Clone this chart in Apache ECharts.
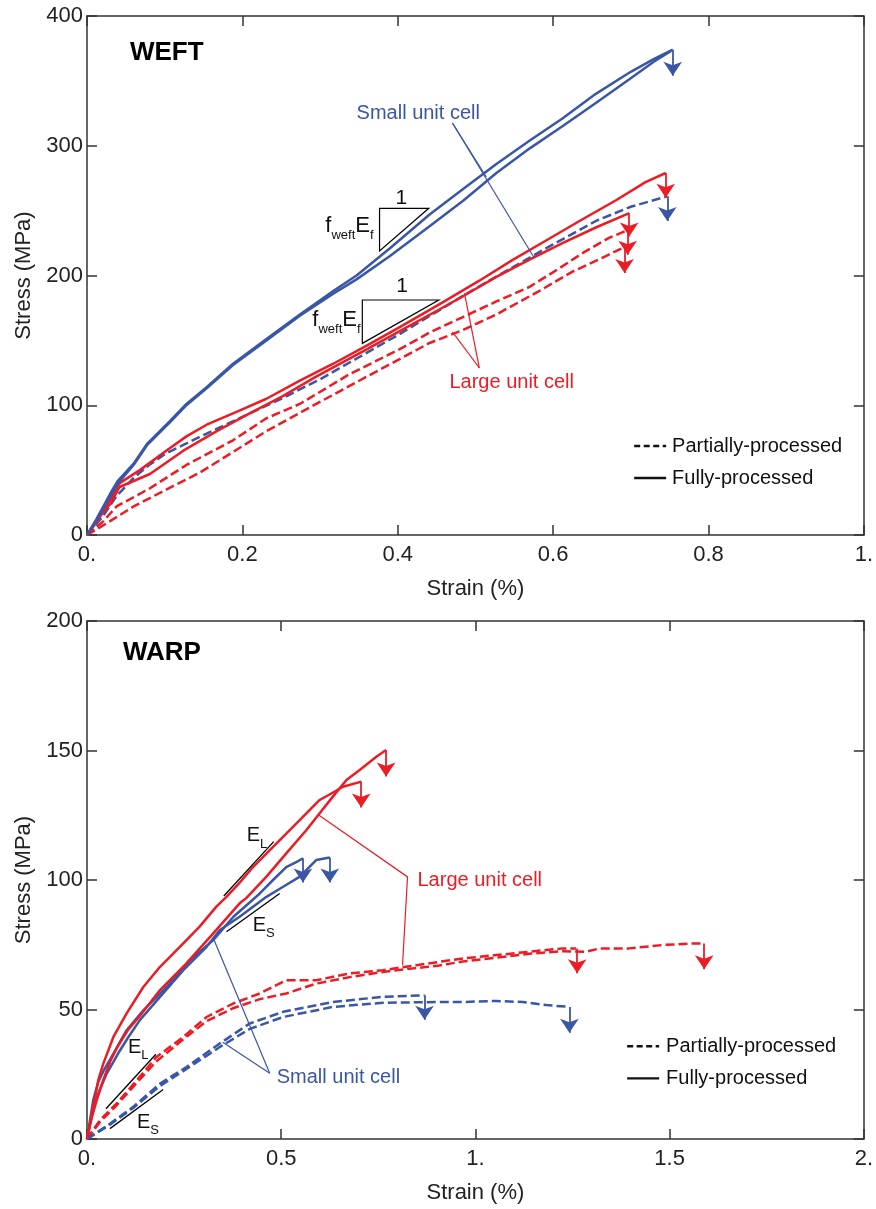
<!DOCTYPE html>
<html><head><meta charset="utf-8">
<script src="https://cdn.jsdelivr.net/npm/echarts@6/dist/echarts.min.js"></script>
<style>html,body{margin:0;padding:0;background:#fff}#c{width:876px;height:1209px}</style>
</head><body><div id="c"></div>
<script>
// ---------------- DATA ----------------
// WEFT panel: [strain %, stress MPa]
const weftStrainTicks = [0, 0.2, 0.4, 0.6, 0.8, 1.0];
const weftStrainLabels = ['0.', '0.2', '0.4', '0.6', '0.8', '1.'];
const weftStressTicks = [0, 100, 200, 300, 400];
const weftSmallFullyA = [[0,0],[0.012,12],[0.03,32],[0.04,42],[0.06,55],[0.077,70],[0.107,88],[0.128,101],[0.154,114],[0.188,132],[0.231,151],[0.274,170],[0.317,188],[0.347,200],[0.39,221],[0.441,247],[0.485,267],[0.527,286],[0.57,304],[0.612,321],[0.655,340],[0.7,357],[0.73,367],[0.754,374]];
const weftSmallFullyB = [[0,0],[0.012,11],[0.03,30],[0.04,40],[0.06,54],[0.077,69],[0.107,87],[0.128,100],[0.154,113],[0.188,131],[0.231,150],[0.274,169],[0.317,186],[0.347,197],[0.39,215],[0.441,238],[0.485,258],[0.527,279],[0.57,298],[0.612,315],[0.655,333],[0.7,352],[0.73,365],[0.752,373]];
const weftSmallPartial = [[0,0],[0.02,14],[0.038,30],[0.06,44],[0.08,54],[0.102,63],[0.15,77],[0.2,91],[0.25,105],[0.3,120],[0.35,137],[0.4,154],[0.45,172],[0.5,190],[0.55,207],[0.6,224],[0.655,242],[0.7,253],[0.747,261]];
const weftLargeFullyA = [[0,0],[0.01,9],[0.021,19],[0.03,27],[0.042,40],[0.068,50],[0.102,65],[0.128,76],[0.154,85],[0.197,96],[0.231,105],[0.274,119],[0.317,132],[0.36,146],[0.402,160],[0.454,178],[0.505,196],[0.548,212],[0.591,227],[0.634,242],[0.681,258],[0.719,272],[0.745,279]];
const weftLargeFullyB = [[0,0],[0.01,8],[0.02,17],[0.03,24],[0.042,37],[0.081,47],[0.124,65],[0.167,80],[0.21,94],[0.252,107],[0.295,122],[0.36,143],[0.402,157],[0.454,174],[0.484,184],[0.527,199],[0.569,212],[0.612,225],[0.655,237],[0.698,248]];
const weftLargePartialA = [[0,0],[0.02,10],[0.038,22],[0.081,36],[0.128,54],[0.188,73],[0.231,90],[0.274,101],[0.338,124],[0.402,143],[0.441,156],[0.484,168],[0.527,180],[0.569,191],[0.604,204],[0.64,218],[0.672,229],[0.696,235]];
const weftLargePartialB = [[0,0],[0.017,6],[0.06,22],[0.102,35],[0.145,48],[0.188,64],[0.231,80],[0.295,101],[0.36,122],[0.441,148],[0.484,158],[0.527,170],[0.582,188],[0.625,203],[0.668,215],[0.692,222]];
// failure arrows: [strain, stress at failure, stress at arrow tip]
const weftBreakSmall = [[0.754,374,354],[0.747,261,242]];
const weftBreakLarge = [[0.745,279,260],[0.698,248,230],[0.696,235,216],[0.692,222,202]];

// WARP panel
const warpStrainTicks = [0, 0.5, 1.0, 1.5, 2.0];
const warpStrainLabels = ['0.', '0.5', '1.', '1.5', '2.'];
const warpStressTicks = [0, 50, 100, 150, 200];
const warpLargeFullyA = [[0,0],[0.016,12.4],[0.029,22.7],[0.042,29.1],[0.068,39.4],[0.102,48.5],[0.145,58.7],[0.188,66.5],[0.239,74.2],[0.29,82],[0.333,89.7],[0.359,93.5],[0.393,99],[0.428,105.1],[0.479,112.8],[0.522,119.3],[0.573,127],[0.599,130.9],[0.63,133.5],[0.659,136],[0.706,138]];
const warpLargeFullyB = [[0,0],[0.012,8],[0.025,15],[0.04,22],[0.06,30],[0.08,36],[0.105,42],[0.136,47.5],[0.188,57.5],[0.256,67.8],[0.325,79.4],[0.393,91],[0.41,93],[0.462,101.3],[0.513,110.3],[0.565,119.3],[0.599,125.8],[0.633,132.2],[0.668,138.6],[0.702,142.5],[0.745,147.6],[0.77,150.2]];
const warpSmallFullyA = [[0,0],[0.016,15],[0.029,22],[0.045,27],[0.068,33],[0.102,42],[0.145,49.7],[0.205,58.7],[0.265,69],[0.325,76.8],[0.377,85.8],[0.445,94.8],[0.479,100],[0.513,105],[0.54,107],[0.556,108.4]];
const warpSmallFullyB = [[0,0],[0.016,12],[0.03,18],[0.05,25],[0.08,33],[0.105,39],[0.136,45.9],[0.188,54.9],[0.248,65.2],[0.308,74.2],[0.342,80.7],[0.393,85.8],[0.462,93.5],[0.505,97.4],[0.548,101.3],[0.59,107.7],[0.625,108.7]];
const warpLargePartialA = [[0,0],[0.033,7.2],[0.076,13.7],[0.136,24],[0.179,31.7],[0.248,39.4],[0.308,47.1],[0.376,52.3],[0.445,56.2],[0.513,61.3],[0.59,61.3],[0.676,63.9],[0.762,65.2],[0.848,67.1],[0.907,68.4],[0.967,69.7],[1.053,71],[1.139,72.3],[1.224,73.6],[1.259,73.6]];
const warpLargePartialB = [[0,0],[0.033,6.5],[0.076,13],[0.136,23],[0.179,30],[0.248,38.5],[0.308,45.5],[0.376,50.5],[0.445,54],[0.513,56.2],[0.59,60],[0.676,62.5],[0.762,64.5],[0.848,66],[0.907,67],[0.967,68.5],[1.053,70],[1.139,71.5],[1.224,72.5],[1.285,72.3],[1.32,73.6],[1.396,73.6],[1.482,74.9],[1.559,75.5],[1.589,75.5]];
const warpSmallPartialA = [[0,0],[0.059,5.9],[0.119,12.4],[0.188,21.4],[0.256,27.8],[0.342,36.9],[0.419,44.6],[0.505,49.1],[0.633,52.9],[0.762,54.9],[0.869,55.5]];
const warpSmallPartialB = [[0,0],[0.059,5.5],[0.119,12],[0.188,20.5],[0.256,27],[0.342,35.5],[0.419,42.5],[0.505,47.1],[0.633,51],[0.762,52.6],[0.907,52.9],[0.967,52.9],[1.053,53.3],[1.122,52.9],[1.182,51.7],[1.242,51]];
const warpBreakLarge = [[0.77,150.2,140],[0.706,138,128],[1.262,73.6,64],[1.589,75.5,65.5]];
const warpBreakSmall = [[0.556,108.4,99],[0.625,108.7,99],[0.869,55.5,46],[1.242,51,41]];

// annotation anchor points (data units)
const weftTitlePos = [0.0553, 371.5];
const weftSmallLabelPos = [0.347, 324.5];
const weftSmallLeader = [[0.4704,317.5],[0.5141,275.9],[0.5758,213.5]];
const weftLargeLabelPos = [0.4666, 117.9];
const weftLargeLeader = [[0.5051,128.7],[0.4704,156.5],[0.4859,186.5]];
const weftTriUpper = [[0.3766,251.8],[0.44,251.8],[0.3766,218.9]];
const weftTriLower = [[0.3544,181.1],[0.4528,181.1],[0.3544,147.7]];
const weftOneUpper = [0.4045, 259.5], weftOneLower = [0.4055, 191.4];
const weftModUpper = [0.3689, 238.2], weftModLower = [0.3522, 165.7];
const weftLegend = [[0.7044, 0.7455, 0.7532], [68.6, 43.9]];

const warpTitlePos = [0.0925, 187.7];
const warpLargeLabelPos = [0.8509, 100.0];
const warpLargeLeader = [[0.5964,125.1],[0.8252,101.2],[0.8123,67.1]];
const warpSmallLabelPos = [0.4884, 23.8];
const warpSmallLeader = [[0.4704,25.4],[0.3239,78.0],[0.3496,37.4]];
const warpSlopes = [ // [start, end, label pos, subscript]
  [[0.3522,93.8],[0.4807,114.8],[0.4113,117.0],'L'],
  [[0.3591,80.0],[0.4961,94.8],[0.4267,82.6],'S'],
  [[0.0488,11.7],[0.1774,32.7],[0.1054,35.4],'L'],
  [[0.0591,4.0],[0.1961,19.1],[0.1285,6.5],'S']
];
const warpLegend = [[1.3907, 1.473, 1.491], [35.8, 23.4]];
const legendNames = ['Partially-processed', 'Fully-processed'];

// ---------------- STYLE ----------------
const BLUE = '#3a56a6', RED = '#ed1c24', AX = '#333';
const FONT = '"Liberation Sans", Arial, Helvetica, sans-serif';
const DASH = [9, 4];

function fmt(ticks, labels) {
  return v => { for (let i = 0; i < ticks.length; i++) if (Math.abs(v - ticks[i]) < 1e-6) return labels[i]; return ''; };
}
function xAxis(grid, pos, max, interval, labels, ticks, main) {
  return {
    gridIndex: grid, type: 'value', position: pos, min: 0, max, interval,
    axisLine: { show: true, onZero: false, lineStyle: { color: AX, width: 1.5 } },
    axisTick: { show: true, inside: true, length: 10, lineStyle: { color: AX, width: 1.5 } },
    splitLine: { show: false },
    axisLabel: { show: main, margin: 9, color: '#222', fontSize: 22, fontFamily: FONT, formatter: fmt(ticks, labels), showMinLabel: true, showMaxLabel: true },
    name: main ? 'Strain (%)' : '', nameLocation: 'middle', nameGap: 43,
    nameTextStyle: { color: '#222', fontSize: 22, fontFamily: FONT }
  };
}
function yAxis(grid, pos, max, interval, main) {
  return {
    gridIndex: grid, type: 'value', position: pos, min: 0, max, interval,
    axisLine: { show: true, onZero: false, lineStyle: { color: AX, width: 1.5 } },
    axisTick: { show: true, inside: true, length: 10, lineStyle: { color: AX, width: 1.5 } },
    splitLine: { show: false },
    axisLabel: { show: main, margin: 4, color: '#222', fontSize: 22, fontFamily: FONT },
    name: main ? 'Stress (MPa)' : '', nameLocation: 'middle', nameGap: 52,
    nameTextStyle: { color: '#222', fontSize: 22, fontFamily: FONT }
  };
}
function curve(g, data, color, dashed, z) {
  return { type: 'line', xAxisIndex: g * 2, yAxisIndex: g * 2, data, symbol: 'none', showSymbol: false,
    smooth: false, z: z || 2, silent: true,
    lineStyle: { color, width: 2.5, type: dashed ? DASH : 'solid', cap: 'butt', join: 'round' } };
}
function arrows(g, list, color) {
  return { type: 'lines', coordinateSystem: 'cartesian2d', xAxisIndex: g * 2, yAxisIndex: g * 2,
    symbol: ['none', 'arrow'], symbolSize: 14, silent: true, z: 4,
    lineStyle: { color, width: 1.8, opacity: 1, curveness: 0 },
    data: list.map(a => ({ coords: [[a[0], a[1]], [a[0], a[2]]] })) };
}

const option = {
  animation: false,
  backgroundColor: '#fff',
  grid: [
    { left: 87, top: 16, width: 778, height: 519 },
    { left: 87, top: 621, width: 778, height: 518 }
  ],
  xAxis: [
    xAxis(0, 'bottom', 1.0, 0.2, weftStrainLabels, weftStrainTicks, true),
    xAxis(0, 'top', 1.0, 0.2, weftStrainLabels, weftStrainTicks, false),
    xAxis(1, 'bottom', 2.0, 0.5, warpStrainLabels, warpStrainTicks, true),
    xAxis(1, 'top', 2.0, 0.5, warpStrainLabels, warpStrainTicks, false)
  ],
  yAxis: [
    yAxis(0, 'left', weftStressTicks[weftStressTicks.length - 1], weftStressTicks[1], true),
    yAxis(0, 'right', weftStressTicks[weftStressTicks.length - 1], weftStressTicks[1], false),
    yAxis(1, 'left', warpStressTicks[warpStressTicks.length - 1], warpStressTicks[1], true),
    yAxis(1, 'right', warpStressTicks[warpStressTicks.length - 1], warpStressTicks[1], false)
  ],
  series: [
    curve(0, weftSmallPartial, BLUE, true, 2),
    curve(0, weftLargePartialA, RED, true, 3),
    curve(0, weftLargePartialB, RED, true, 3),
    curve(0, weftLargeFullyA, RED, false, 3),
    curve(0, weftLargeFullyB, RED, false, 3),
    curve(0, weftSmallFullyA, BLUE, false, 3),
    curve(0, weftSmallFullyB, BLUE, false, 3),
    arrows(0, weftBreakSmall, BLUE),
    arrows(0, weftBreakLarge, RED),
    curve(1, warpLargePartialA, RED, true, 3),
    curve(1, warpLargePartialB, RED, true, 3),
    curve(1, warpSmallPartialA, BLUE, true, 3),
    curve(1, warpSmallPartialB, BLUE, true, 3),
    curve(1, warpSmallFullyA, BLUE, false, 3),
    curve(1, warpSmallFullyB, BLUE, false, 3),
    curve(1, warpLargeFullyA, RED, false, 3),
    curve(1, warpLargeFullyB, RED, false, 3),
    arrows(1, warpBreakLarge, RED),
    arrows(1, warpBreakSmall, BLUE)
  ]
};

const chart = echarts.init(document.getElementById('c'), null, { renderer: 'canvas' });
chart.setOption(option);

// ---------------- ANNOTATIONS ----------------
const P = (g, pt) => chart.convertToPixel({ xAxisIndex: g * 2, yAxisIndex: g * 2 }, pt);
const mctx = document.createElement('canvas').getContext('2d');
function tw(t, size, weight) { mctx.font = (weight || 'normal') + ' ' + size + 'px ' + FONT; return mctx.measureText(t).width; }
const G = [];
function text(x, y, t, color, size, weight, align) {
  G.push({ type: 'text', x, y, z: 10, silent: true, style: {
    text: t, fill: color, font: (weight || 'normal') + ' ' + size + 'px ' + FONT,
    textAlign: align || 'left', align: align || 'left', textVerticalAlign: 'middle', verticalAlign: 'middle' } });
}
function poly(pts, color, w) {
  G.push({ type: 'polyline', z: 9, silent: true, shape: { points: pts }, style: { stroke: color, lineWidth: w, fill: null } });
}
function polygon(pts) {
  G.push({ type: 'polygon', z: 9, silent: true, shape: { points: pts }, style: { stroke: '#000', lineWidth: 1.2, fill: 'none' } });
}
// parts: [text, isSub]
function subText(x, y, parts, baseSize, subSize, alignRight) {
  let total = 0;
  parts.forEach(p => total += tw(p[0], p[1] ? subSize : baseSize));
  let cx = alignRight ? x - total : x;
  parts.forEach(p => {
    const s = p[1] ? subSize : baseSize;
    text(cx, p[1] ? y + baseSize * 0.42 : y, p[0], '#111', s);
    cx += tw(p[0], s);
  });
}

// WEFT
let p = P(0, weftTitlePos); text(p[0], p[1], 'WEFT', '#000', 26, 'bold');
p = P(0, weftSmallLabelPos); text(p[0], p[1], 'Small unit cell', BLUE, 20);
{ const s = P(0, weftSmallLeader[0]); poly([s, P(0, weftSmallLeader[1])], BLUE, 1.2); poly([s, P(0, weftSmallLeader[2])], BLUE, 1.2); }
p = P(0, weftLargeLabelPos); text(p[0], p[1], 'Large unit cell', RED, 20);
{ const s = P(0, weftLargeLeader[0]); poly([s, P(0, weftLargeLeader[1])], RED, 1.2); poly([s, P(0, weftLargeLeader[2])], RED, 1.2); }
polygon(weftTriUpper.map(q => P(0, q)));
polygon(weftTriLower.map(q => P(0, q)));
p = P(0, weftOneUpper); text(p[0], p[1], '1', '#111', 21, 'normal', 'center');
p = P(0, weftOneLower); text(p[0], p[1], '1', '#111', 21, 'normal', 'center');
p = P(0, weftModUpper); subText(p[0], p[1], [['f',0],['weft',1],['E',0],['f',1]], 22, 13, true);
p = P(0, weftModLower); subText(p[0], p[1], [['f',0],['weft',1],['E',0],['f',1]], 22, 13, true);
// legend WEFT
{
  const [xs, ys] = weftLegend;
  const a0 = P(0, [xs[0], ys[0]]), a1 = P(0, [xs[1], ys[0]]);
  G.push({ type: 'line', z: 9, silent: true, shape: { x1: a0[0], y1: a0[1], x2: a1[0], y2: a1[1] }, style: { stroke: '#111', lineWidth: 2.4, lineDash: [6, 3.5] } });
  const b0 = P(0, [xs[0], ys[1]]), b1 = P(0, [xs[1], ys[1]]);
  G.push({ type: 'line', z: 9, silent: true, shape: { x1: b0[0], y1: b0[1], x2: b1[0], y2: b1[1] }, style: { stroke: '#111', lineWidth: 2.4 } });
  const t0 = P(0, [xs[2], ys[0]]), t1 = P(0, [xs[2], ys[1]]);
  text(t0[0], t0[1], legendNames[0], '#111', 20); text(t1[0], t1[1], legendNames[1], '#111', 20);
}

// WARP
p = P(1, warpTitlePos); text(p[0], p[1], 'WARP', '#000', 26, 'bold');
p = P(1, warpLargeLabelPos); text(p[0], p[1], 'Large unit cell', RED, 20);
poly(warpLargeLeader.map(q => P(1, q)), RED, 1.2);
p = P(1, warpSmallLabelPos); text(p[0], p[1], 'Small unit cell', BLUE, 20);
{ const s = P(1, warpSmallLeader[0]); poly([s, P(1, warpSmallLeader[1])], BLUE, 1.2); poly([s, P(1, warpSmallLeader[2])], BLUE, 1.2); }
warpSlopes.forEach(sl => {
  poly([P(1, sl[0]), P(1, sl[1])], '#000', 1.3);
  const q = P(1, sl[2]);
  subText(q[0], q[1], [['E',0],[sl[3],1]], 20, 13, false);
});
{
  const [xs, ys] = warpLegend;
  const a0 = P(1, [xs[0], ys[0]]), a1 = P(1, [xs[1], ys[0]]);
  G.push({ type: 'line', z: 9, silent: true, shape: { x1: a0[0], y1: a0[1], x2: a1[0], y2: a1[1] }, style: { stroke: '#111', lineWidth: 2.4, lineDash: [6, 3.5] } });
  const b0 = P(1, [xs[0], ys[1]]), b1 = P(1, [xs[1], ys[1]]);
  G.push({ type: 'line', z: 9, silent: true, shape: { x1: b0[0], y1: b0[1], x2: b1[0], y2: b1[1] }, style: { stroke: '#111', lineWidth: 2.4 } });
  const t0 = P(1, [xs[2], ys[0]]), t1 = P(1, [xs[2], ys[1]]);
  text(t0[0], t0[1], legendNames[0], '#111', 20); text(t1[0], t1[1], legendNames[1], '#111', 20);
}

chart.setOption({ graphic: { elements: G } });
</script>
</body></html>
